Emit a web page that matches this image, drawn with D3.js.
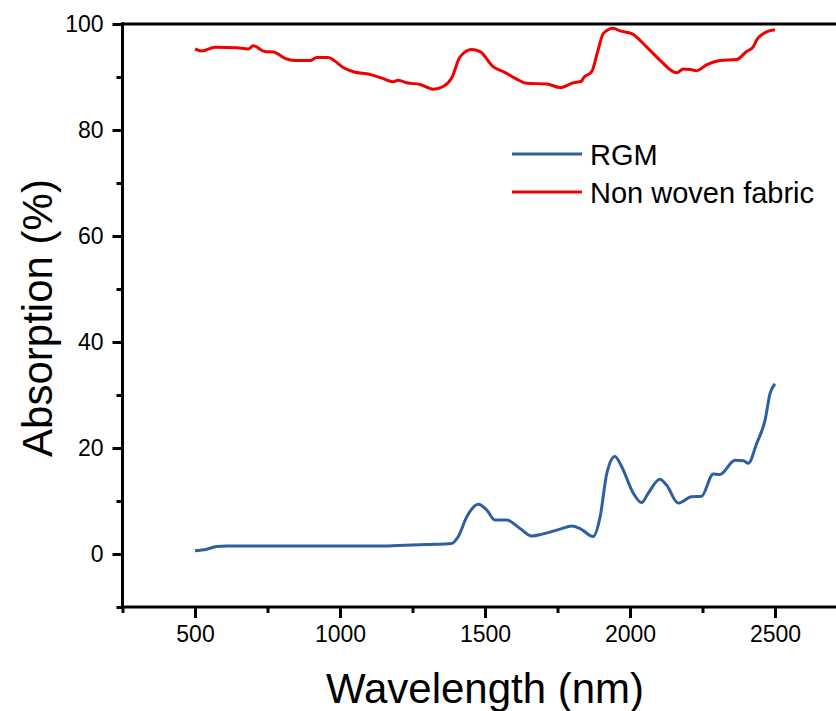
<!DOCTYPE html>
<html>
<head>
<meta charset="utf-8">
<script src="https://cdn.jsdelivr.net/npm/d3@7"></script>
<style>
  html, body { margin: 0; padding: 0; background: #fff; }
  svg { display: block; font-family: "Liberation Sans", Arial, sans-serif; }
</style>
</head>
<body>
<div id="chart"></div>
<script>
"use strict";
var WIDTH = 836;
var HEIGHT = 711;

// series data
var rgmWave = [500, 540, 575, 609, 700, 800, 900, 1000, 1100, 1138, 1200, 1300, 1385, 1408, 1437, 1477, 1506, 1534,
  1575, 1621, 1661, 1701, 1759, 1799, 1828, 1873, 1897, 1920, 1948, 1971, 2011, 2040, 2063, 2103, 2126, 2166,
  2212, 2247, 2287, 2310, 2362, 2391, 2408, 2437, 2466, 2483, 2500];
var rgmAbs = [0.6, 0.9, 1.4, 1.5, 1.5, 1.5, 1.5, 1.5, 1.5, 1.5, 1.6, 1.8, 2.0, 3.3, 7.0, 9.4, 8.3, 6.4,
  6.4, 4.8, 3.4, 3.8, 4.7, 5.3, 4.8, 3.3, 7.0, 15.2, 18.4, 16.5, 11.5, 9.7, 11.5, 14.1, 13.0, 9.6,
  10.8, 10.9, 15.1, 15.0, 17.7, 17.6, 17.1, 20.9, 25.3, 30.3, 32.1];

var fabricWave = [500, 523, 569, 644, 684, 701, 741, 770, 816, 851, 897, 920, 960, 977, 1011, 1046, 1103, 1144,
  1184, 1201, 1230, 1276, 1322, 1356, 1385, 1414, 1454, 1483, 1529, 1563, 1609, 1644, 1713, 1759, 1804, 1833,
  1839, 1868, 1890, 1908, 1942, 1966, 2006, 2057, 2103, 2161, 2184, 2207, 2230, 2264, 2310, 2368, 2402, 2425,
  2437, 2471, 2500];
var fabricAbs = [95.3, 94.9, 95.6, 95.5, 95.3, 95.9, 94.8, 94.7, 93.4, 93.1, 93.1, 93.7, 93.7, 93.2, 91.8, 91.0, 90.5, 89.8,
  89.1, 89.4, 88.9, 88.6, 87.7, 88.2, 89.8, 93.8, 95.2, 94.8, 91.9, 91.0, 89.6, 88.8, 88.7, 88.0, 88.9, 89.2,
  89.8, 91.0, 95.1, 98.2, 99.2, 98.7, 98.2, 95.7, 93.2, 90.8, 91.5, 91.4, 91.2, 92.3, 93.1, 93.3, 94.8, 95.7,
  97.0, 98.5, 98.9];

var xMajorTicks = [500, 1000, 1500, 2000, 2500];
var xMinorTicks = [250, 750, 1250, 1750, 2250];
var yMajorTicks = [0, 20, 40, 60, 80, 100];
var yMinorTicks = [-10, 10, 30, 50, 70, 90];

var seriesNames = ["RGM", "Non woven fabric"];
var seriesColors = ["#2f5f9f", "#f20000"];

var x = d3.scaleLinear().domain([250, 2750]).range([122.5, 847.5]);
var y = d3.scaleLinear().domain([-10, 100]).range([607, 24]);

var svg = d3.select("#chart").append("svg")
    .attr("width", WIDTH)
    .attr("height", HEIGHT);

svg.append("rect").attr("width", WIDTH).attr("height", HEIGHT).attr("fill", "#fff");

// curves
var line = d3.line()
    .x(function (d) { return x(d[0]); })
    .y(function (d) { return y(d[1]); })
    .curve(d3.curveMonotoneX);

var rgmData = rgmWave.map(function (w, i) { return [w, rgmAbs[i]]; });
var fabricData = fabricWave.map(function (w, i) { return [w, fabricAbs[i]]; });

svg.append("path").datum(rgmData)
    .attr("d", line)
    .attr("fill", "none")
    .attr("stroke", seriesColors[0])
    .attr("stroke-width", 3)
    .attr("stroke-linejoin", "round");

svg.append("path").datum(fabricData)
    .attr("d", line)
    .attr("fill", "none")
    .attr("stroke", seriesColors[1])
    .attr("stroke-width", 3)
    .attr("stroke-linejoin", "round");

// axes
var xAxis = d3.axisBottom(x).tickValues(xMajorTicks).tickSize(11).tickPadding(8).tickFormat(d3.format("d"));
var xAxisMinor = d3.axisBottom(x).tickValues(xMinorTicks).tickSize(6).tickFormat("");
var yAxis = d3.axisLeft(y).tickValues(yMajorTicks).tickSize(10).tickPadding(9).tickFormat(d3.format("d"));
var yAxisMinor = d3.axisLeft(y).tickValues(yMinorTicks).tickSize(6).tickFormat("");

function styleAxis(g) {
    g.select(".domain").remove();
    g.selectAll(".tick line").attr("stroke", "#000").attr("stroke-width", 3);
    g.selectAll(".tick text")
        .attr("fill", "#000")
        .style("font-size", "23px")
        .style("font-family", "'Liberation Sans', Arial, sans-serif");
}

svg.append("g").attr("transform", "translate(0,607)").call(xAxis).call(styleAxis);
svg.append("g").attr("transform", "translate(0,607)").call(xAxisMinor).call(styleAxis);
svg.append("g").attr("transform", "translate(122.5,0)").call(yAxis).call(styleAxis);
svg.append("g").attr("transform", "translate(122.5,0)").call(yAxisMinor).call(styleAxis);

// frame lines
svg.append("line").attr("x1", 122.5).attr("x2", 122.5).attr("y1", 22.5).attr("y2", 608.5)
    .attr("stroke", "#000").attr("stroke-width", 3);
svg.append("line").attr("x1", 121).attr("x2", 848).attr("y1", 607).attr("y2", 607)
    .attr("stroke", "#000").attr("stroke-width", 3);
svg.append("line").attr("x1", 121).attr("x2", 848).attr("y1", 24).attr("y2", 24)
    .attr("stroke", "#000").attr("stroke-width", 3);

// axis titles
svg.append("text")
    .attr("x", 485).attr("y", 703)
    .attr("text-anchor", "middle")
    .style("font-size", "42px")
    .text("Wavelength (nm)");

svg.append("text")
    .attr("transform", "translate(52,318) rotate(-90)")
    .attr("text-anchor", "middle")
    .style("font-size", "42px")
    .text("Absorption (%)");

// legend
var legend = svg.append("g");
seriesNames.forEach(function (name, i) {
    var ly = 154 + i * 38;
    legend.append("line")
        .attr("x1", 512).attr("x2", 582)
        .attr("y1", ly).attr("y2", ly)
        .attr("stroke", seriesColors[i]).attr("stroke-width", 3);
    legend.append("text")
        .attr("x", 590).attr("y", ly + 11)
        .style("font-size", "29px")
        .text(name);
});
</script>
</body>
</html>
